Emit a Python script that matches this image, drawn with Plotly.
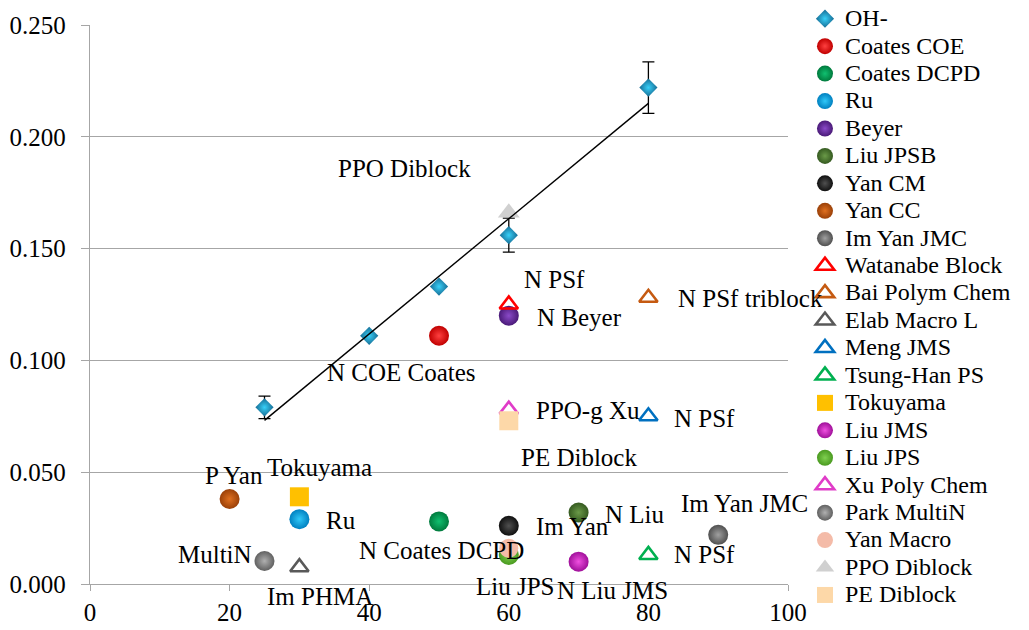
import numpy as np
import plotly.graph_objects as go

FONT = "Liberation Serif, Times New Roman, serif"

# ---------------- data ----------------
oh_x = [25, 40, 50, 60, 80]
oh_y = [0.079, 0.111, 0.133, 0.156, 0.222]
oh_err = [0.005, 0.0, 0.0, 0.0076, 0.0115]

series_names = ["Coates COE", "Coates DCPD", "Ru", "Beyer", "Liu JPSB", "Yan CM",
                "Yan CC", "Im Yan JMC", "Watanabe Block", "Bai Polym Chem",
                "Elab Macro L", "Meng JMS", "Tsung-Han PS", "Tokuyama", "Liu JMS",
                "Liu JPS", "Xu Poly Chem", "Park MultiN", "Yan Macro",
                "PPO Diblock", "PE Diblock"]
series_x = [50, 50, 30, 60, 70, 60, 20, 90, 60, 80, 30, 80, 80, 30, 70, 60, 60, 25, 60, 60, 60]
series_y = [0.111, 0.028, 0.029, 0.120, 0.032, 0.026, 0.038, 0.022, 0.125, 0.128,
            0.0075, 0.075, 0.013, 0.039, 0.010, 0.013, 0.078, 0.0103, 0.016, 0.166, 0.073]

label_text = ["PPO Diblock", "N PSf", "N Beyer", "N PSf triblock", "N COE Coates",
              "PPO-g Xu", "N PSf", "PE Diblock", "Tokuyama", "P Yan", "Ru", "Im Yan",
              "N Liu", "Im Yan JMC", "MultiN", "N Coates DCPD", "N PSf", "Liu JPS",
              "N Liu JMS", "Im PHMA"]
label_x = [45.1, 66.5, 70.1, 94.6, 44.6, 71.3, 88.1, 70.1, 32.9, 20.7, 36.0, 69.1,
           78.1, 93.8, 17.9, 50.3, 88.1, 61.0, 74.8, 32.9]
label_y = [0.186, 0.1364, 0.1194, 0.1279, 0.0948, 0.0774, 0.0742, 0.0564, 0.0523,
           0.0487, 0.0282, 0.0255, 0.0313, 0.0362, 0.013, 0.0152, 0.013, -0.0013,
           -0.0027, -0.0058]

x_ticks = [0, 20, 40, 60, 80, 100]
y_ticks = [0.0, 0.05, 0.10, 0.15, 0.20, 0.25]
X_RANGE = [0, 100]
Y_RANGE = [0, 0.25]

# ---------------- styles ----------------
styles = {
    "Coates COE": ("sphere", "#c00000", "#ff4040"),
    "Coates DCPD": ("sphere", "#007a3d", "#10c070"),
    "Ru": ("sphere", "#0080c0", "#30c8f8"),
    "Beyer": ("sphere", "#4a1a78", "#8a4ac8"),
    "Liu JPSB": ("sphere", "#355a20", "#6a9a48"),
    "Yan CM": ("sphere", "#101010", "#505050"),
    "Yan CC": ("sphere", "#9a4008", "#e07020"),
    "Im Yan JMC": ("sphere", "#505050", "#a0a0a0"),
    "Watanabe Block": ("otri", "#ff0000", None),
    "Bai Polym Chem": ("otri", "#c55a11", None),
    "Elab Macro L": ("otri", "#595959", None),
    "Meng JMS": ("otri", "#0070c0", None),
    "Tsung-Han PS": ("otri", "#00b050", None),
    "Tokuyama": ("square", "#ffc000", None),
    "Liu JMS": ("sphere", "#a0109a", "#f050e0"),
    "Liu JPS": ("sphere", "#4a9a20", "#80d050"),
    "Xu Poly Chem": ("otri", "#e03cc8", None),
    "Park MultiN": ("sphere", "#606060", "#b0b0b0"),
    "Yan Macro": ("circle", "#f4bba8", None),
    "PPO Diblock": ("ftri", "#d0d0d0", None),
    "PE Diblock": ("square", "#fdd8a8", None),
}


def legend_name(s):
    return '<span style="font-size:24px">' + s + '</span>'


fig = go.Figure()

fig.add_trace(go.Scatter(
    x=oh_x, y=oh_y, mode="markers", name=legend_name("OH-"),
    marker=dict(symbol="diamond", size=14, color="#166c94",
                gradient=dict(type="radial", color="#38d0f8"), line=dict(width=0)),
    error_y=dict(type="data", array=oh_err, symmetric=True, color="black",
                 thickness=1.3, width=6),
))

for name, sx, sy in zip(series_names, series_x, series_y):
    kind, c1, c2 = styles[name]
    if kind == "sphere":
        m = dict(symbol="circle", size=20, color=c1,
                 gradient=dict(type="radial", color=c2), line=dict(width=0))
    elif kind == "otri":
        m = dict(symbol="triangle-up-open", size=16, color=c1, line=dict(width=2.6, color=c1))
    elif kind == "ftri":
        m = dict(symbol="triangle-up", size=19, color=c1, line=dict(width=0))
    elif kind == "square":
        m = dict(symbol="square", size=19, color=c1, line=dict(width=0))
    else:
        m = dict(symbol="circle", size=19, color=c1, line=dict(width=0))
    fig.add_trace(go.Scatter(x=[sx], y=[sy], mode="markers", name=legend_name(name), marker=m))

# linear trend line for OH-
slope, intercept = np.polyfit(oh_x, oh_y, 1)
tx = np.array([min(oh_x), max(oh_x)])
fig.add_trace(go.Scatter(x=tx, y=slope * tx + intercept, mode="lines",
                         line=dict(color="black", width=1.4), showlegend=False,
                         hoverinfo="skip"))

# data labels (y in data units, placed through the y-axis domain so that labels
# below the x-axis are still drawn)
for t, lx, ly in zip(label_text, label_x, label_y):
    yd = (ly - Y_RANGE[0]) / (Y_RANGE[1] - Y_RANGE[0])
    fig.add_annotation(x=lx, y=yd, text=t, showarrow=False, xref="x", yref="y domain",
                       font=dict(family=FONT, size=25, color="black"),
                       xanchor="center", yanchor="middle")

fig.update_layout(
    width=1029, height=630,
    margin=dict(l=90, r=241, t=25, b=46, autoexpand=False),
    plot_bgcolor="white", paper_bgcolor="white",
    font=dict(family=FONT, size=25, color="black"),
    showlegend=True,
    legend=dict(xref="container", yref="container", x=0.7823, y=1.0,
                xanchor="left", yanchor="top",
                font=dict(family=FONT, size=18.8, color="black"),
                bgcolor="rgba(0,0,0,0)", itemclick=False, itemdoubleclick=False,
                tracegroupgap=0, maxheight=640),
    xaxis=dict(range=X_RANGE, tickvals=x_ticks, showgrid=False, zeroline=False,
               showline=True, linecolor="#a6a6a6", linewidth=1.3,
               ticks="outside", ticklen=6, tickcolor="#a6a6a6", tickwidth=1.3,
               ticklabelstandoff=0,
               tickfont=dict(family=FONT, size=25, color="black")),
    yaxis=dict(range=Y_RANGE, tickvals=y_ticks, tickformat=".3f",
               showgrid=True, gridcolor="#a6a6a6", gridwidth=1.3, zeroline=False,
               showline=True, linecolor="#a6a6a6", linewidth=1.3,
               ticks="outside", ticklen=8, tickcolor="#a6a6a6", tickwidth=1.3,
               ticklabelstandoff=10,
               tickfont=dict(family=FONT, size=25, color="black")),
)

fig.write_html("out.html")
